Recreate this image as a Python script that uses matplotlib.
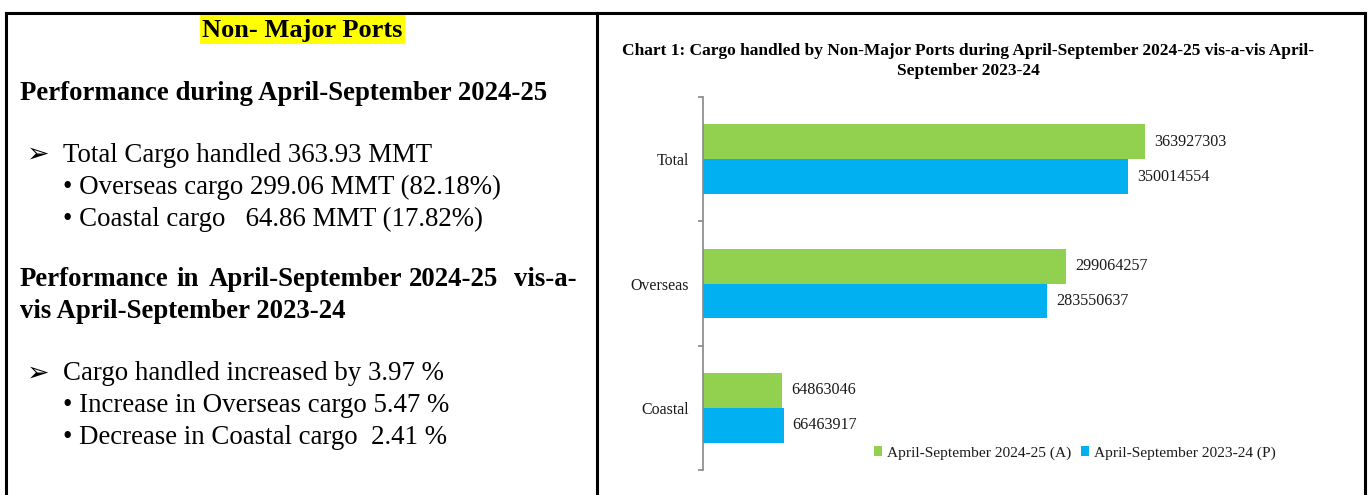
import matplotlib
matplotlib.use("Agg")
import matplotlib.pyplot as plt
from matplotlib.patches import Rectangle
from matplotlib.lines import Line2D

# ---------------- data ----------------
categories = ["Total", "Overseas", "Coastal"]
series_2024 = [363927303, 299064257, 64863046]
series_2023 = [350014554, 283550637, 66463917]
label_2024 = "April-September 2024-25 (A)"
label_2023 = "April-September 2023-24 (P)"
chart_title = ("Chart 1: Cargo handled by Non-Major Ports during April-September 2024-25 vis-a-vis April-\n"
               "September 2023-24")

GREEN = "#92D050"
BLUE = "#00B0F0"
W, H = 1370, 495
SERIF = ["Liberation Serif", "DejaVu Serif"]

fig = plt.figure(figsize=(W / 100, H / 100), dpi=100)
fig.patch.set_facecolor("white")


def P(x, y):
    return x / W, 1 - y / H


renderer = fig.canvas.get_renderer()


def txt(x, y, s, size=14, weight="normal", ha="left", va="center", width=None, family=SERIF, **kw):
    t = fig.text(*P(x, y), s, fontsize=size, fontweight=weight, ha=ha, va=va,
                 family=family, **kw)
    if width is not None:
        bb = t.get_window_extent(renderer)
        t.set_fontsize(size * width / bb.width)
    return t


# ---------------- borders ----------------
def fline(x0, y0, x1, y1, lw=2.2, color="black"):
    fig.add_artist(Line2D([x0 / W, x1 / W], [1 - y0 / H, 1 - y1 / H], color=color, lw=lw,
                          solid_capstyle="projecting"))


fline(6, 13, 1365, 13)
fline(6, 13, 6, 500)
fline(597, 13, 597, 500)
fline(1365, 13, 1365, 500)

# ---------------- left panel ----------------
D = 2
fig.add_artist(Rectangle(P(200, 44), 205 / W, 29 / H, facecolor="#FFFF00", edgecolor="none"))
txt(302, 30, "Non- Major Ports", 16, "bold", ha="center", width=201)
hsize = txt(20, 92 + D, "Performance during April-September 2024-25", 18, "bold", width=527).get_fontsize()

bsize = txt(63, 153 + D, "Total Cargo handled 363.93 MMT", 16, width=370).get_fontsize()
arrow_family = ["DejaVu Sans"]
txt(27, 153 + D, "\u27A2", bsize * 1.0, family=arrow_family)
txt(63, 185 + D, "\u2022 Overseas cargo 299.06 MMT (82.18%)", bsize)
txt(63, 217 + D, "\u2022 Coastal cargo   64.86 MMT (17.82%)", bsize)

# justified heading
words = ["Performance", "in", "April-September", "2024-25", "vis-a-"]
wx = [20, 176, 209, 409, 514]
for w_, x_ in zip(words, wx):
    txt(x_, 277 + D, w_, hsize, "bold")
txt(20, 309 + D, "vis April-September 2023-24", hsize, "bold")

txt(27, 372 + D, "\u27A2", bsize * 1.0, family=arrow_family)
txt(63, 372 + D, "Cargo handled increased by 3.97 %", bsize)
txt(63, 404 + D, "\u2022 Increase in Overseas cargo 5.47 %", bsize)
txt(63, 436 + D, "\u2022 Decrease in Coastal cargo  2.41 %", bsize)

# ---------------- chart ----------------
txt(968, 61, chart_title, 11, "bold", ha="center", width=690, linespacing=1.35)

ax_left, ax_right, ax_top, ax_bot = 703, 1330, 97, 470
ax = fig.add_axes([ax_left / W, 1 - ax_bot / H, (ax_right - ax_left) / W, (ax_bot - ax_top) / H])
px_per_unit = (1145 - 703) / series_2024[0]
ax.set_xlim(0, (ax_right - ax_left) / px_per_unit)
ax.set_ylim(-0.5, len(categories) - 0.5)

ypos = [len(categories) - 1 - i for i in range(len(categories))]
bh = 0.28
b1 = ax.barh([y + bh / 2 for y in ypos], series_2024, height=bh, color=GREEN, label=label_2024)
b2 = ax.barh([y - bh / 2 for y in ypos], series_2023, height=bh, color=BLUE, label=label_2023)

VSIZE = 11.6
for bars, vals in ((b1, series_2024), (b2, series_2023)):
    for r, v in zip(bars, vals):
        ax.annotate(f"{v}", (r.get_width(), r.get_y() + r.get_height() / 2),
                    xytext=(9, 0), textcoords="offset pixels", ha="left", va="center",
                    fontsize=VSIZE, family=SERIF, color="#1a1a1a")

ax.set_yticks(ypos)
ax.set_yticklabels(categories, fontsize=11.4, family=SERIF, color="#1a1a1a")
ax.tick_params(axis="y", which="major", length=0, pad=10)
ax.set_yticks([-0.5, 0.5, 1.5, 2.5], minor=True)
ax.tick_params(axis="y", which="minor", length=3.6, color="#888888", width=1.2)
ax.set_xticks([])
for s in ("top", "right", "bottom"):
    ax.spines[s].set_visible(False)
ax.spines["left"].set_color("#888888")
ax.spines["left"].set_linewidth(1.2)
ax.set_facecolor("none")

leg = fig.legend(handles=[b1, b2], loc="center left", bbox_to_anchor=P(874, 453),
                 ncol=2, frameon=False, prop={"family": SERIF, "size": 11.1},
                 handlelength=0.55, handleheight=0.55, handletextpad=0.3, columnspacing=0.6,
                 borderaxespad=0, borderpad=0)
for t in leg.get_texts():
    t.set_color("#1a1a1a")

fig.savefig("out.png", dpi=100, facecolor="white")
